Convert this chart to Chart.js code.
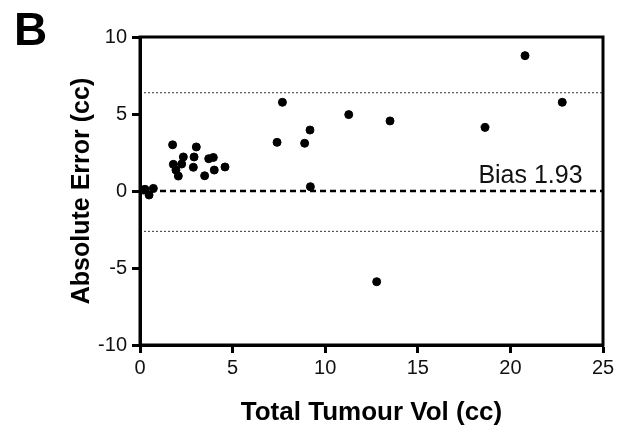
<!DOCTYPE html>
<html>
<head>
<meta charset="utf-8">
<script src="https://cdn.jsdelivr.net/npm/chart.js@4"></script>
<style>
  html, body { margin: 0; padding: 0; background: #fff; }
  #wrap { width: 627px; height: 437px; }
</style>
</head>
<body>
<div id="wrap"><canvas id="c"></canvas></div>
<script>
// total tumour volume (cc) vs absolute error (cc)
const volumes = [
  0.18, 0.27, 0.49, 0.72,
  1.76, 3.04, 2.34, 2.92, 3.71, 3.96, 1.80, 2.25, 2.88, 4.59, 4.01, 1.94, 2.07, 3.49,
  7.69, 7.40, 8.89, 9.18, 9.20, 11.27, 12.78, 13.50, 18.63, 20.79, 22.80
];
const errors = [
  0.06, 0.11, -0.26, 0.17,
  3.00, 2.86, 2.21, 2.21, 2.10, 2.18, 1.73, 1.75, 1.54, 1.56, 1.36, 1.36, 0.97, 0.99,
  5.76, 3.16, 3.10, 3.96, 0.28, 4.96, -5.89, 4.55, 4.13, 8.79, 5.76
];
const bias = 0;
const biasLabel = 'Bias 1.93';
const upperLimit = 6.38;
const lowerLimit = -2.62;
const xTicks = [0, 5, 10, 15, 20, 25];
const yTicks = [-10, -5, 0, 5, 10];

const points = volumes.map((v, i) => ({ x: v, y: errors[i] }));
const span = v => [{ x: 0, y: v }, { x: 25, y: v }];

const FONT = "'Liberation Sans', Arial, sans-serif";

const frame = {
  id: 'frame',
  afterDraw(chart) {
    const { ctx, chartArea: a, scales } = chart;
    ctx.save();
    ctx.strokeStyle = '#000';
    ctx.lineWidth = 3;
    ctx.strokeRect(a.left, a.top, a.right - a.left, a.bottom - a.top);
    ctx.fillStyle = '#111';
    ctx.font = '25px ' + FONT;
    ctx.textAlign = 'right';
    ctx.textBaseline = 'alphabetic';
    ctx.fillText(biasLabel, scales.x.getPixelForValue(23.9), scales.y.getPixelForValue(0.52));
    ctx.fillStyle = '#000';
    ctx.font = 'bold 46px ' + FONT;
    ctx.textAlign = 'left';
    ctx.fillText('B', 14, 45);
    ctx.restore();
  }
};

new Chart(document.getElementById('c'), {
  type: 'scatter',
  data: {
    datasets: [
      {
        data: points,
        backgroundColor: '#000',
        borderColor: '#000',
        pointRadius: 4,
        pointHoverRadius: 4,
        order: 0,
      },
      {
        type: 'line',
        data: span(bias),
        borderColor: '#000',
        borderWidth: 2.5,
        borderDash: [6, 4],
        pointRadius: 0,
        order: 1,
      },
      {
        type: 'line',
        data: span(upperLimit),
        borderColor: '#333',
        borderWidth: 1,
        borderDash: [2, 2],
        pointRadius: 0,
        order: 1,
      },
      {
        type: 'line',
        data: span(lowerLimit),
        borderColor: '#333',
        borderWidth: 1,
        borderDash: [2, 2],
        pointRadius: 0,
        order: 1,
      },
    ],
  },
  options: {
    responsive: true,
    maintainAspectRatio: false,
    animation: false,
    layout: { padding: { top: 37, right: 24, left: 0, bottom: 0 } },
    plugins: {
      legend: { display: false },
      tooltip: { enabled: false },
    },
    scales: {
      x: {
        type: 'linear',
        min: 0,
        max: 25,
        afterFit: s => { s.height = 92; },
        afterBuildTicks: s => { s.ticks = xTicks.map(v => ({ value: v })); },
        grid: { drawOnChartArea: false, tickLength: 8, tickWidth: 3, tickColor: '#000' },
        border: { display: true, color: '#000', width: 3 },
        ticks: { color: '#111', padding: 3, font: { family: FONT, size: 20 } },
        title: {
          display: true,
          text: 'Total Tumour Vol (cc)',
          color: '#000',
          font: { family: FONT, size: 26, weight: 'bold' },
          padding: { top: 0, bottom: 9 },
        },
      },
      y: {
        type: 'linear',
        min: -10,
        max: 10,
        afterFit: s => { s.width = 140; },
        afterBuildTicks: s => { s.ticks = yTicks.map(v => ({ value: v })); },
        grid: { drawOnChartArea: false, tickLength: 8, tickWidth: 3, tickColor: '#000' },
        border: { display: true, color: '#000', width: 3 },
        ticks: { color: '#111', padding: 5, font: { family: FONT, size: 20 } },
        title: {
          display: true,
          text: 'Absolute Error (cc)',
          color: '#000',
          font: { family: FONT, size: 25, weight: 'bold' },
          padding: { top: 67, bottom: 0 },
        },
      },
    },
  },
  plugins: [frame],
});
</script>
</body>
</html>
